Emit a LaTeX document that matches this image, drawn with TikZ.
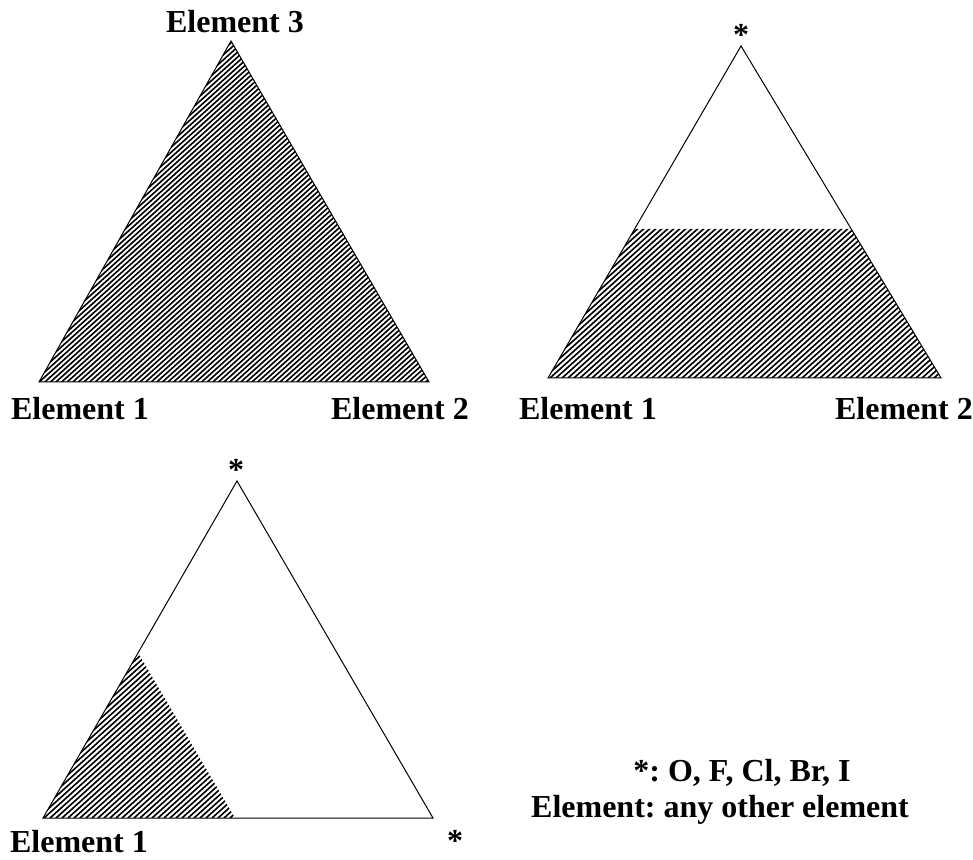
\documentclass[tikz,border=0pt]{standalone}
\usepackage{fontspec}
\setmainfont{Liberation Serif}
\usetikzlibrary{calc}
\frenchspacing
\begin{document}
\begin{tikzpicture}[x=1pt,y=1pt,
  tri/.style={draw=black,line width=1pt,line join=miter},
  hatchline/.style={draw=black,line width=1.6pt},
  lab/.style={inner sep=0pt,anchor=base,font=\fontsize{32}{36}\selectfont\bfseries}]
\useasboundingbox (0,0) rectangle (973,859);
% coordinates
\coordinate (A1) at (39,477);  \coordinate (B1) at (429,477); \coordinate (C1) at (231,818);
\coordinate (A2) at (548,481); \coordinate (B2) at (941,481); \coordinate (C2) at (741,813);
\coordinate (P2) at ($(A2)!0.449!(C2)$);
\coordinate (Q2) at ($(B2)!0.449!(C2)$);
\coordinate (A3) at (43,41);   \coordinate (B3) at (433,41);  \coordinate (C3) at (237,378);
\coordinate (P3) at ($(A3)!0.49!(C3)$);
\coordinate (Q3) at (235,41);
% hatching triangle 1
\begin{scope}
  \clip (A1) -- (B1) -- (C1) -- cycle;
  \foreach \i in {0,...,155} \draw[hatchline] ({-420+\i*5.6},477) -- ++(42:620);
\end{scope}
% hatching triangle 2
\begin{scope}
  \clip (A2) -- (B2) -- (Q2) -- (P2) -- cycle;
  \foreach \i in {0,...,110} \draw[hatchline] ({370+\i*6.0},481) -- ++(42:300);
\end{scope}
% hatching triangle 3
\begin{scope}
  \clip (A3) -- (Q3) -- (P3) -- cycle;
  \foreach \i in {0,...,72} \draw[hatchline] ({-160+\i*6.0},41) -- ++(42:300);
\end{scope}
% triangles
\draw[tri] (A1) -- (B1) -- (C1) -- cycle;
\draw[tri] (A2) -- (B2) -- (C2) -- cycle;
\draw[tri] (A3) -- (B3) -- (C3) -- cycle;
% labels
\node[lab] (t1top) at (235,826) {Element 3};
\node[lab] (t1l) at (80,439) {Element 1};
\node[lab] (t1r) at (400,439) {Element 2};
\node[lab] (t2top) at (741,813) {*};
\node[lab] (t2l) at (588,439) {Element 1};
\node[lab] (t2r) at (904,439) {Element 2};
\node[lab] (t3top) at (236,378) {*};
\node[lab] (t3l) at (79,7) {Element 1};
\node[lab] (t3r) at (455,8) {*};
\node[lab] (leg1) at (742,78) {*: O, F, Cl, Br, I};
\node[lab] (leg2) at (720,42) {Element: any other element};
\end{tikzpicture}
\end{document}
